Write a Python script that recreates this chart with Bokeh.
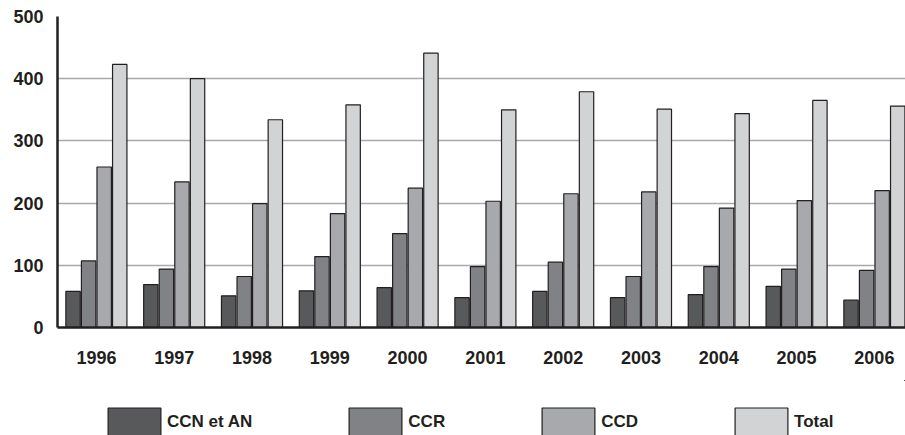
from bokeh.plotting import figure
from bokeh.layouts import column
from bokeh.models import Range1d, FixedTicker, Legend, LegendItem, ColumnDataSource
from bokeh.transform import dodge
from bokeh.embed import file_html
from bokeh.resources import INLINE

years = ["1996", "1997", "1998", "1999", "2000", "2001", "2002", "2003", "2004", "2005", "2006"]
ccn_an = [58, 69, 51, 59, 64, 48, 58, 48, 53, 66, 44]
ccr = [107, 94, 82, 114, 151, 98, 105, 82, 98, 94, 92]
ccd = [258, 234, 199, 183, 224, 203, 215, 218, 192, 204, 220]
total = [423, 400, 334, 358, 441, 350, 379, 351, 344, 365, 356]

series_names = ["CCN et AN", "CCR", "CCD", "Total"]
series_keys = ["ccn_an", "ccr", "ccd", "total"]
series_colors = ["#58595b", "#808285", "#a7a9ac", "#d1d3d4"]
y_ticks = [0, 100, 200, 300, 400, 500]

idx = list(range(len(years)))
src = ColumnDataSource(dict(x=idx, ccn_an=ccn_an, ccr=ccr, ccd=ccd, total=total))

FONT = "Liberation Sans"
INK = "#231f20"

p = figure(width=905, height=380,
           x_range=Range1d(-0.5, 10.4), y_range=Range1d(0, 500),
           output_backend="svg", toolbar_location=None,
           min_border_left=57, min_border_right=0, min_border_top=16, min_border_bottom=53)

offsets = [-0.3, -0.1, 0.1, 0.3]
for key, col, off in zip(series_keys, series_colors, offsets):
    p.vbar(x=dodge("x", off, range=p.x_range), top=key, width=0.185, source=src,
           fill_color=col, line_color=INK, line_width=1.2)

p.outline_line_color = None
p.background_fill_color = "white"
p.border_fill_color = "white"

p.xaxis.ticker = FixedTicker(ticks=idx)
p.xaxis.major_label_overrides = {i: y for i, y in enumerate(years)}
p.yaxis.ticker = FixedTicker(ticks=y_ticks)
p.xgrid.visible = False
p.ygrid.ticker = FixedTicker(ticks=y_ticks)
p.ygrid.grid_line_color = "#a7a9ac"
p.ygrid.grid_line_width = 1.5

for ax in (p.xaxis[0], p.yaxis[0]):
    ax.axis_line_color = INK
    ax.axis_line_width = 2.5
    ax.major_tick_line_color = None
    ax.minor_tick_line_color = None
    ax.major_tick_out = 0
    ax.major_tick_in = 0
    ax.major_label_text_font = FONT
    ax.major_label_text_font_style = "bold"
    ax.major_label_text_font_size = "18px"
    ax.major_label_text_color = INK

p.xaxis.major_label_standoff = 23
p.yaxis.major_label_standoff = 14

# legend strip below the chart (its bars use the same data but lie entirely outside its view)
lg = figure(width=905, height=55, x_range=Range1d(-100, -99), y_range=Range1d(-2, -1),
            output_backend="svg", toolbar_location=None,
            x_axis_type=None, y_axis_type=None,
            min_border_left=0, min_border_right=0, min_border_top=0, min_border_bottom=0)
lg.outline_line_color = None
lg.xgrid.visible = False
lg.ygrid.visible = False
swatches = []
for key, col in zip(series_keys, series_colors):
    swatches.append(lg.vbar(x="x", top=key, width=0.185, source=src,
                            fill_color=col, line_color=INK, line_width=1.2))

legend = Legend(
    items=[LegendItem(label=n, renderers=[r]) for n, r in zip(series_names, swatches)],
    orientation="horizontal", location=(44, -4), spacing=90,
    glyph_width=66, glyph_height=35, label_standoff=0,
    padding=0, margin=0, border_line_color=None, background_fill_alpha=0,
    label_text_font=FONT, label_text_font_style="bold", label_text_font_size="17px",
    label_text_color=INK,
)
lg.add_layout(legend, "center")

open("out.html", "w").write(file_html(column(p, lg), INLINE))
